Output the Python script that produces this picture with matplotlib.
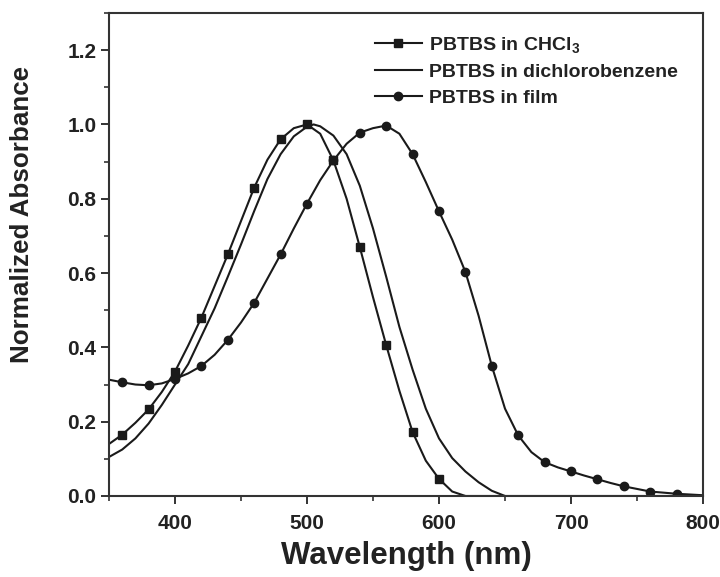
import matplotlib
matplotlib.use("Agg")
import matplotlib.pyplot as plt
from matplotlib.ticker import MultipleLocator

plt.rcParams['font.family'] = ['Liberation Sans', 'DejaVu Sans']
plt.rcParams['mathtext.fontset'] = 'custom'
plt.rcParams['mathtext.rm'] = 'Liberation Sans:bold'
plt.rcParams['mathtext.bf'] = 'Liberation Sans:bold'
plt.rcParams['mathtext.it'] = 'Liberation Sans:bold'

# wavelength grid (nm)
wl_chcl3 = [350, 360, 370, 380, 390, 400, 410, 420, 430, 440, 450, 460, 470, 480,
            490, 500, 510, 520, 530, 540, 550, 560, 570, 580, 590, 600, 610, 620]
abs_chcl3 = [0.14, 0.165, 0.197, 0.233, 0.28, 0.335, 0.405, 0.48, 0.565, 0.65, 0.74,
             0.83, 0.905, 0.96, 0.99, 1.0, 0.975, 0.903, 0.80, 0.67, 0.535, 0.406,
             0.283, 0.172, 0.095, 0.046, 0.012, 0.0]

wl_dcb = [350, 360, 370, 380, 390, 400, 410, 420, 430, 440, 450, 460, 470, 480,
          490, 500, 505, 510, 520, 530, 540, 550, 560, 570, 580, 590, 600, 610,
          620, 630, 640, 650]
abs_dcb = [0.105, 0.125, 0.155, 0.195, 0.245, 0.30, 0.355, 0.43, 0.505, 0.59, 0.677,
           0.767, 0.853, 0.92, 0.968, 0.994, 1.0, 0.995, 0.97, 0.92, 0.835, 0.72,
           0.59, 0.455, 0.34, 0.235, 0.155, 0.102, 0.066, 0.037, 0.014, 0.0]

wl_film = [350, 360, 370, 380, 390, 400, 410, 420, 430, 440, 450, 460, 470, 480,
           490, 500, 510, 520, 530, 540, 550, 560, 570, 580, 590, 600, 610, 620,
           630, 640, 650, 660, 670, 680, 690, 700, 710, 720, 730, 740, 750, 760,
           770, 780, 790, 800]
abs_film = [0.313, 0.306, 0.300, 0.298, 0.303, 0.315, 0.33, 0.35, 0.38, 0.42, 0.467,
            0.52, 0.585, 0.65, 0.72, 0.787, 0.85, 0.903, 0.948, 0.978, 0.99, 0.997,
            0.975, 0.92, 0.845, 0.766, 0.69, 0.603, 0.485, 0.35, 0.235, 0.163,
            0.118, 0.091, 0.077, 0.066, 0.055, 0.045, 0.035, 0.026, 0.019, 0.012,
            0.009, 0.006, 0.004, 0.002]

labels = ['PBTBS in CHCl$_3$', 'PBTBS in dichlorobenzene', 'PBTBS in film']

fig = plt.figure(figsize=(7.2, 5.77), dpi=100)
ax = fig.add_axes([0.1514, 0.1404, 0.8250, 0.8371])

c = '#1a1a1a'
ax.plot(wl_chcl3, abs_chcl3, color=c, lw=1.5, marker='s', markersize=5.5,
        markevery=slice(1, 26, 2), label=labels[0])
ax.plot(wl_dcb, abs_dcb, color=c, lw=1.5, label=labels[1])
ax.plot(wl_film, abs_film, color=c, lw=1.5, marker='o', markersize=6,
        markevery=slice(1, 44, 2), label=labels[2])
ax.plot([620, 800], [0, 0], color=c, lw=1.5)

ax.set_xlim(350, 800)
ax.set_ylim(0, 1.3)
ax.xaxis.set_major_locator(MultipleLocator(100))
ax.xaxis.set_minor_locator(MultipleLocator(50))
ax.yaxis.set_major_locator(MultipleLocator(0.2))
ax.yaxis.set_minor_locator(MultipleLocator(0.1))
ax.yaxis.set_major_formatter(plt.FuncFormatter(lambda v, p: f'{v:.1f}'))

for s in ax.spines.values():
    s.set_linewidth(1.5)
    s.set_color('#333333')
ax.tick_params(which='major', direction='out', length=6, width=1.4, color='#333333',
               labelsize=15, labelcolor='#222222', top=False, right=False)
ax.tick_params(which='minor', direction='out', length=3.5, width=1.2, color='#333333',
               top=False, right=False)
for lab in ax.get_xticklabels() + ax.get_yticklabels():
    lab.set_fontweight('bold')
ax.tick_params(axis='x', pad=7)
ax.tick_params(axis='y', pad=3)

ax.set_xlabel('Wavelength (nm)', fontsize=22.5, fontweight='bold', color='#222222', labelpad=6)
ax.set_ylabel('Normalized Absorbance', fontsize=18.7, fontweight='bold', color='#222222')
ax.yaxis.set_label_coords(-0.127, 0.582)

leg = ax.legend(loc='upper left', bbox_to_anchor=(0.448, 0.954), frameon=False,
                prop={'size': 14, 'weight': 'bold'}, handlelength=2.4,
                handletextpad=0.36, labelspacing=0.42, borderpad=0, borderaxespad=0)
for t in leg.get_texts():
    t.set_color('#222222')

fig.savefig('out.png', dpi=100)
